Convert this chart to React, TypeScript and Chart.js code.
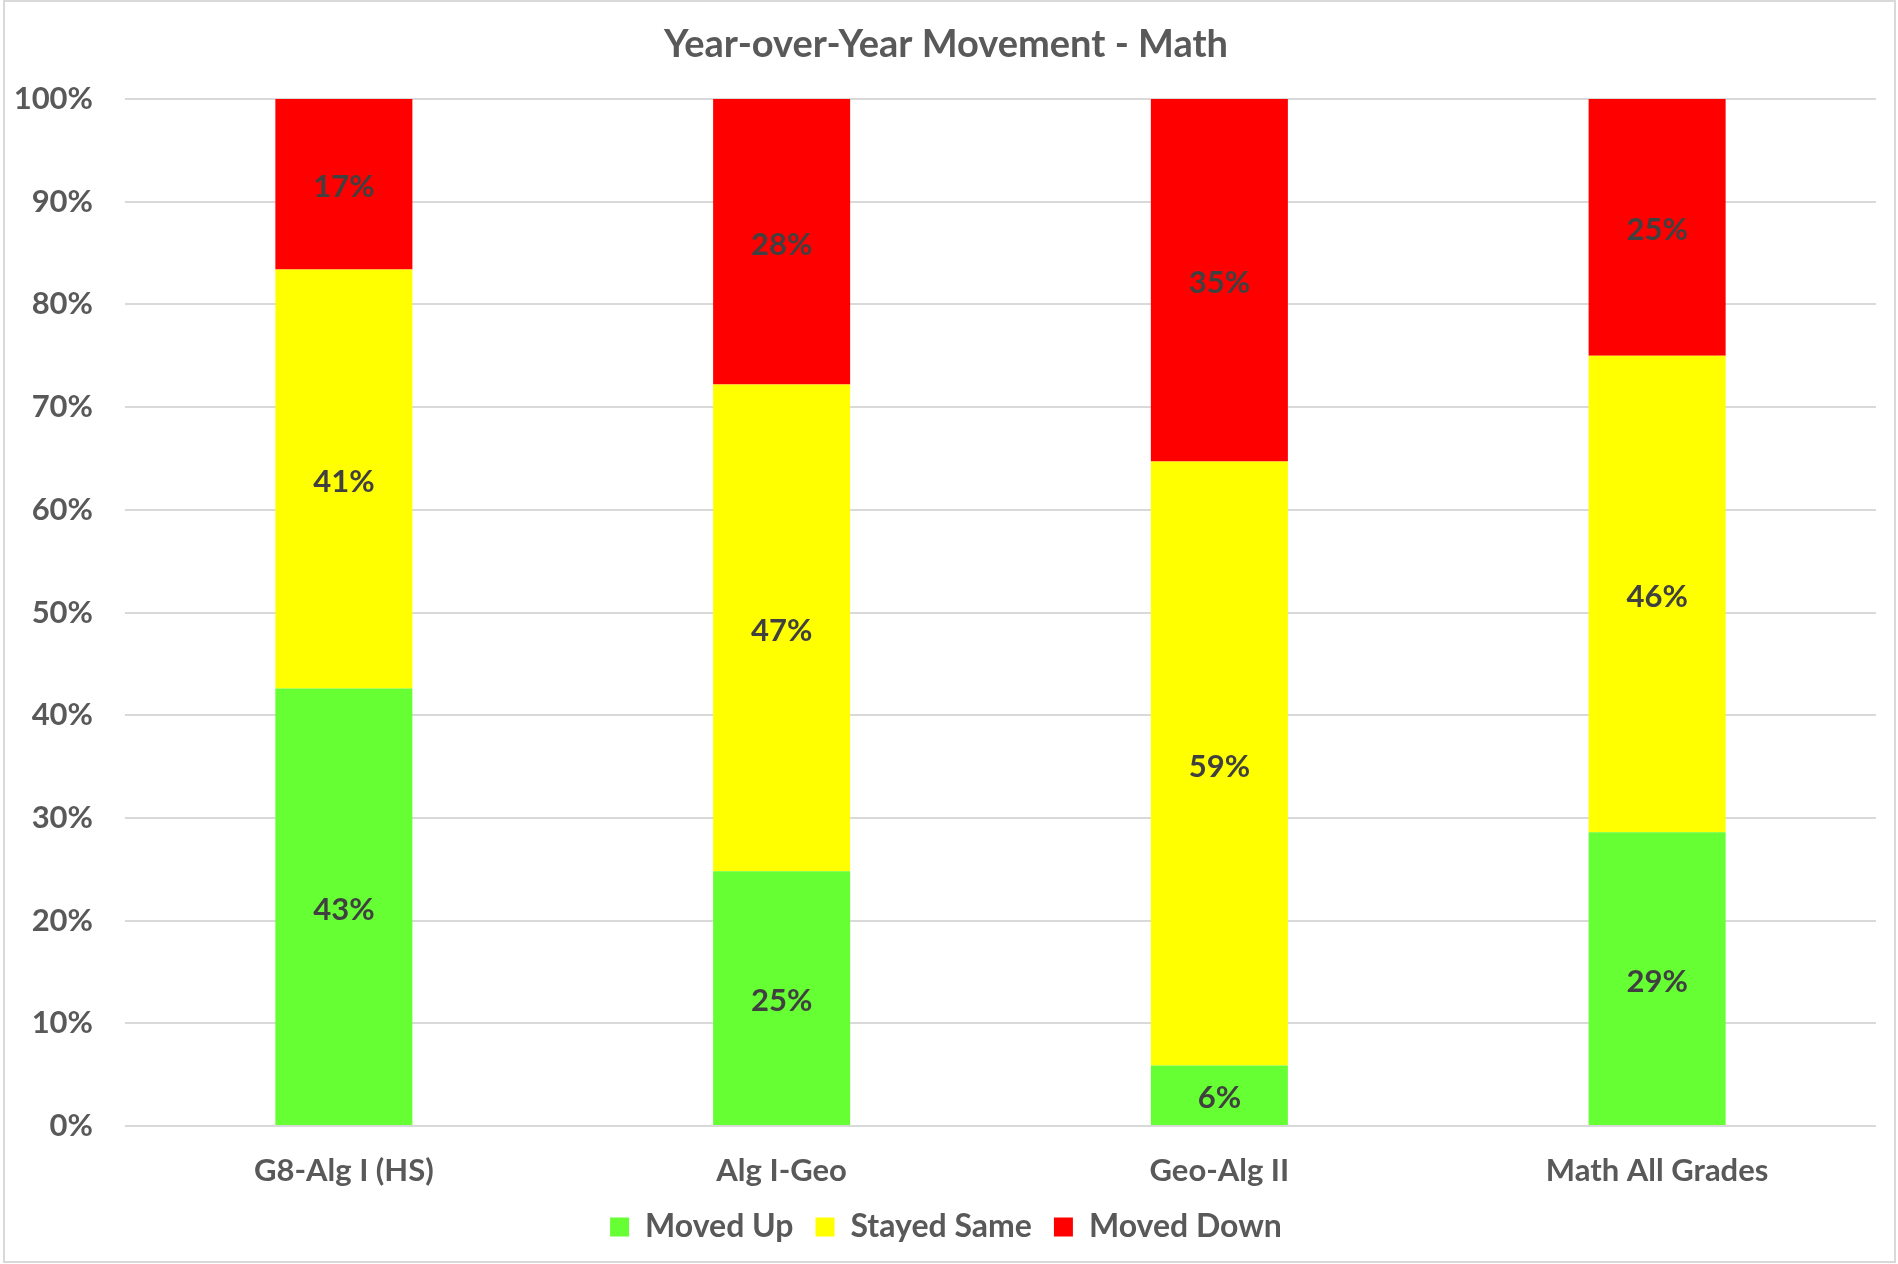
import React, { useEffect, useRef } from "react";
import { Chart, registerables } from "chart.js";

Chart.register(...registerables);

const categories = ["G8-Alg I (HS)", "Alg I-Geo", "Geo-Alg II", "Math All Grades"];
const movedUp = [42.6, 24.8, 5.9, 28.6];
const stayedSame = [40.8, 47.4, 58.8, 46.4];
const movedDown = [16.6, 27.8, 35.3, 25.0];
const seriesNames = ["Moved Up", "Stayed Same", "Moved Down"];
const seriesColors = ["#66FF33", "#FFFF00", "#FF0000"];
const titleText = "Year-over-Year Movement - Math";

const FONT = "Lato, 'Open Sans', sans-serif";
const TEXT = "#595959";

const bgPlugin = {
  id: "bgBorder",
  beforeDraw(chart: any) {
    const { ctx, width, height } = chart;
    ctx.save();
    ctx.fillStyle = "#ffffff";
    ctx.fillRect(0, 0, width, height);
    ctx.strokeStyle = "#d9d9d9";
    ctx.lineWidth = 2;
    ctx.strokeRect(4, 1, 1891, 1261);
    ctx.restore();
  },
};

const labelPlugin = {
  id: "segLabels",
  afterDatasetsDraw(chart: any) {
    const { ctx } = chart;
    ctx.save();
    ctx.font = `bold 31px ${FONT}`;
    ctx.fillStyle = "#404040";
    ctx.textAlign = "center";
    ctx.textBaseline = "middle";
    chart.data.datasets.forEach((ds: any, di: number) => {
      const meta = chart.getDatasetMeta(di);
      meta.data.forEach((bar: any, i: number) => {
        const v = ds.data[i];
        const cy = (bar.y + bar.base) / 2 + 3;
        ctx.fillText(`${Math.round(v)}%`, bar.x, cy);
      });
    });
    ctx.restore();
  },
};

export default function App() {
  const ref = useRef<HTMLCanvasElement>(null);
  useEffect(() => {
    document.body.style.margin = "0";
    const canvas = ref.current!;
    const chart = new Chart(canvas, {
      type: "bar",
      data: {
        labels: categories,
        datasets: [movedUp, stayedSame, movedDown].map((d, i) => ({
          label: seriesNames[i],
          data: d,
          backgroundColor: seriesColors[i],
          borderWidth: 0,
          categoryPercentage: 1,
          barPercentage: 0.313,
        })),
      },
      options: {
        responsive: false,
        animation: false,
        devicePixelRatio: 1,
        layout: { padding: { left: 16, right: 22, top: 0, bottom: 11 } },
        plugins: {
          title: {
            display: true,
            text: titleText,
            color: TEXT,
            font: { family: FONT, size: 38, weight: "bold", lineHeight: 1.2 },
            padding: { top: 21.5, bottom: 32 },
          },
          legend: {
            position: "bottom",
            labels: {
              color: TEXT,
              font: { family: FONT, size: 32, weight: "bold" },
              boxWidth: 19,
              boxHeight: 19,
              padding: 22,
            },
          },
          tooltip: { enabled: false },
        },
        scales: {
          x: {
            stacked: true,
            grid: { display: false, drawTicks: false },
            border: { display: false },
            ticks: {
              color: TEXT,
              font: { family: FONT, size: 31, weight: "bold", lineHeight: 1.2 },
              padding: 26,
            },
            afterFit(scale: any) {
              scale.height = 63;
            },
          },
          y: {
            stacked: true,
            min: 0,
            max: 100,
            grid: { color: "#d9d9d9", lineWidth: 2, drawTicks: false },
            border: { display: false },
            ticks: {
              stepSize: 10,
              color: TEXT,
              font: { family: FONT, size: 31, weight: "bold" },
              padding: 32,
              callback: (v: any) => `${v}%`,
            },
            afterFit(scale: any) {
              scale.width = 109;
            },
          },
        },
      },
      plugins: [bgPlugin, labelPlugin],
    });
    return () => chart.destroy();
  }, []);
  return <canvas ref={ref} width={1898} height={1264} style={{ display: "block" }} />;
}
